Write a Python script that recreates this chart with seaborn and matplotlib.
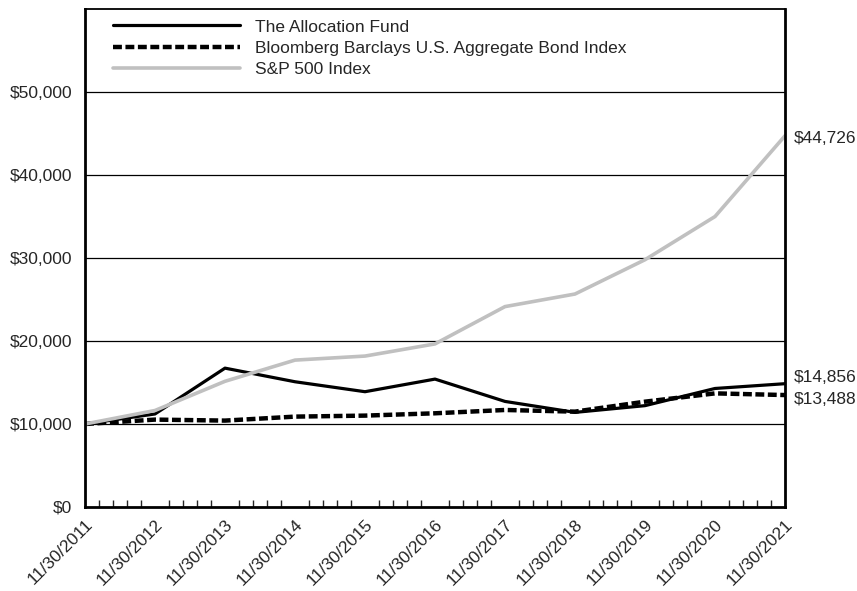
import numpy as np
import pandas as pd
import matplotlib
matplotlib.use("Agg")
import matplotlib.pyplot as plt
import matplotlib.transforms as mtransforms
import seaborn as sns
from matplotlib.ticker import FuncFormatter, MultipleLocator

# data
dates = ["11/30/2011", "11/30/2012", "11/30/2013", "11/30/2014", "11/30/2015", "11/30/2016",
         "11/30/2017", "11/30/2018", "11/30/2019", "11/30/2020", "11/30/2021"]
fund = [10000, 11210, 16730, 15090, 13890, 15410, 12720, 11400, 12210, 14280, 14856]
bond = [10000, 10530, 10410, 10890, 11010, 11290, 11690, 11490, 12690, 13690, 13488]
sp500 = [10000, 11627, 15145, 17698, 18185, 19650, 24145, 25660, 29794, 34995, 44726]
names = ["The Allocation Fund", "Bloomberg Barclays U.S. Aggregate Bond Index", "S&P 500 Index"]

sns.set_style("white")
plt.rcParams['font.family'] = ['Liberation Sans', 'DejaVu Sans']

idx = np.arange(len(dates))
df = pd.DataFrame({
    "x": np.tile(idx, 3),
    "value": fund + bond + sp500,
    "series": np.repeat(names, len(dates)),
})

fig = plt.figure(figsize=(8.57, 5.91), dpi=100)
ax = fig.add_axes([85 / 857, 84 / 591, 700 / 857, 498 / 591])

grid_vals = [10000, 20000, 30000, 40000, 50000]
for a in grid_vals:
    ax.axhline(a, color="black", lw=0.9, zorder=0)

palette = {names[0]: "black", names[1]: "black", names[2]: "#C0C0C0"}
sns.lineplot(data=df, x="x", y="value", hue="series", style="series",
             palette=palette, dashes={names[0]: "", names[1]: (2, 0.8), names[2]: ""},
             hue_order=names, style_order=names, ax=ax, legend=True)
lws = [2.3, 3.2, 2.6]
series_lines = ax.lines[len(grid_vals):len(grid_vals) + 3]
for ln, lw in zip(series_lines, lws):
    ln.set_linewidth(lw)

ax.set_xlim(0, 10)
ax.set_ylim(0, 60000)
ax.set_xticks(idx)
ax.set_xticklabels(dates, rotation=45, ha="right", rotation_mode="anchor", fontsize=12.5)
shift = mtransforms.ScaledTranslation(-5 / 72, 0, fig.dpi_scale_trans)
for lab in ax.get_xticklabels():
    lab.set_transform(lab.get_transform() + shift)
ax.xaxis.set_minor_locator(MultipleLocator(0.2))
ax.tick_params(axis="x", which="major", direction="in", length=10, width=1, pad=7)
ax.tick_params(axis="x", which="minor", direction="in", length=5, width=1, bottom=True)
ax.set_yticks([0, 10000, 20000, 30000, 40000, 50000])
ax.yaxis.set_major_formatter(FuncFormatter(lambda v, p: "${:,.0f}".format(v)))
ax.tick_params(axis="y", length=0, labelsize=12.5, pad=9)
ax.set_xlabel("")
ax.set_ylabel("")
for s in ax.spines.values():
    s.set_color("black")
    s.set_linewidth(1.3)
ax.spines["left"].set_linewidth(2)
ax.spines["bottom"].set_linewidth(2)
ax.spines["right"].set_linewidth(2)

leg = ax.legend(loc="upper left", frameon=False, fontsize=12.5, handlelength=7.3,
                handletextpad=0.9, labelspacing=0.35, borderaxespad=0.2,
                bbox_to_anchor=(0.025, 1.0))
for h, lw in zip(leg.get_lines(), lws):
    h.set_linewidth(lw)

ends = [fund[-1], bond[-1], sp500[-1]]
offs = [4.5, -3.5, -2]
for v, o in zip(ends, offs):
    ax.annotate("${:,.0f}".format(v), xy=(10, v), xytext=(6, o), textcoords="offset points",
                va="center", ha="left", fontsize=12.5, annotation_clip=False)

fig.savefig("out.png", dpi=100)
